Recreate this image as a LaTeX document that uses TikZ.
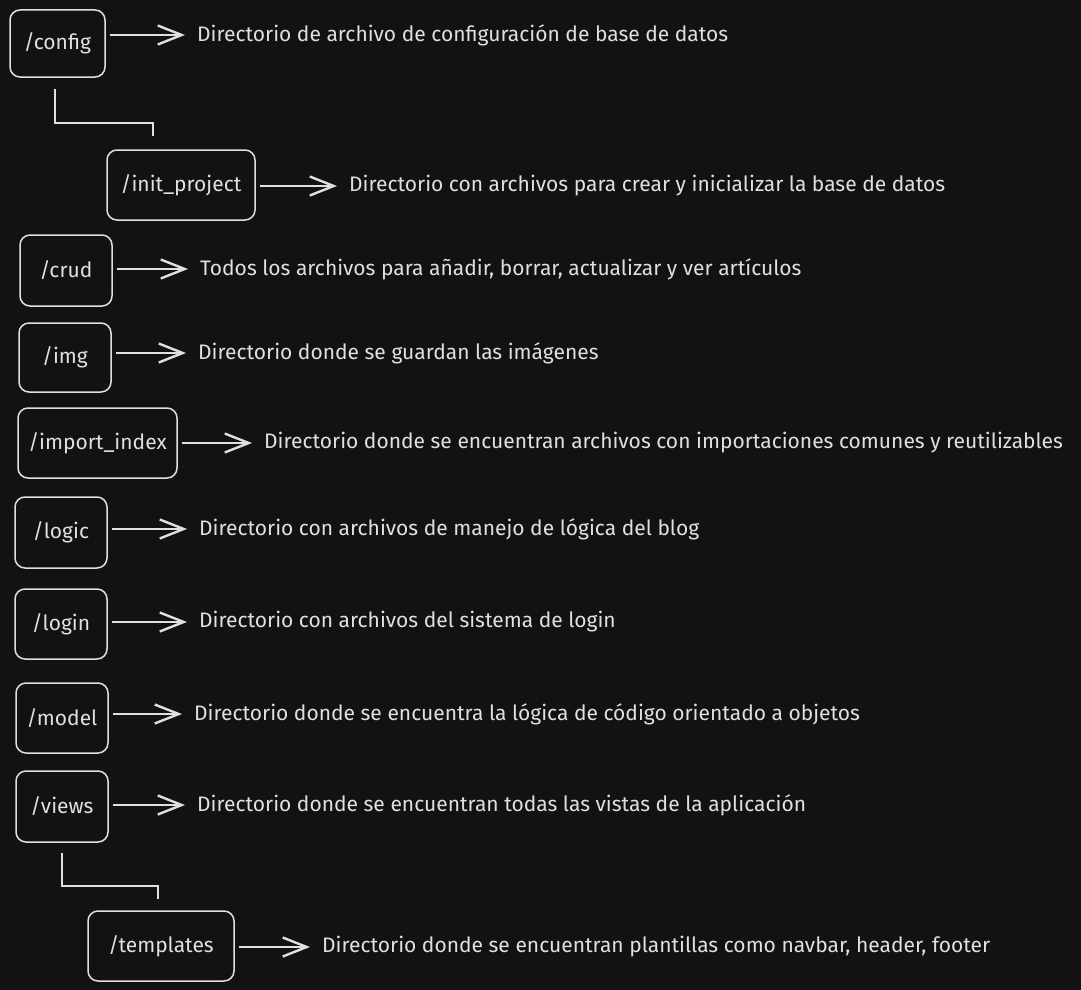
\documentclass[tikz,border=0pt]{standalone}
\usepackage{fontspec}
\setmainfont{Fira Sans}
\definecolor{sketchbg}{RGB}{18, 18, 18}
\definecolor{sketchink}{RGB}{224, 224, 224}
\usetikzlibrary{arrows.meta, positioning}
\tikzset{
    dirbox/.style={rectangle, rounded corners=10pt, draw=sketchink, line width=1.5pt,
                   text=sketchink, align=center, inner sep=0pt, font=\fontsize{21}{25}\selectfont},
    desctext/.style={anchor=west, text=sketchink, inner sep=0pt, font=\fontsize{21}{25}\selectfont},
    arrow/.style={-{Straight Barb[length=24pt, width=19pt]}, line width=2.4pt, sketchink,
                  shorten <=4pt, shorten >=12pt},
    elbow/.style={line width=2pt, sketchink},
}
\begin{document}
\begin{tikzpicture}[x=1pt, y=-1pt]
            \useasboundingbox (0, 0) rectangle (1081, 990);
            \fill[sketchbg] (0, 0) rectangle (1081, 990);

            \node[dirbox, minimum width=95pt, minimum height=67pt] (config) at (57.5, 43.5) {/config};
            \node[desctext] (configdesc) at (197, 35) {Directorio de archivo de configuración de base de datos};
            \node[dirbox, minimum width=148pt, minimum height=70pt] (initproject) at (181, 185) {/init\_project};
            \node[desctext] (initdesc) at (349, 186) {Directorio con archivos para crear y inicializar la base de datos};
            \node[dirbox, minimum width=92pt, minimum height=71pt] (crud) at (66, 270.5) {/crud};
            \node[desctext] (cruddesc) at (200, 269) {Todos los archivos para añadir, borrar, actualizar y ver artículos};
            \node[dirbox, minimum width=92pt, minimum height=69pt] (img) at (65, 357.5) {/img};
            \node[desctext] (imgdesc) at (198, 353) {Directorio donde se guardan las imágenes};
            \node[dirbox, minimum width=159pt, minimum height=70pt] (import) at (97.5, 443) {/import\_index};
            \node[desctext] (importdesc) at (264, 443) {Directorio donde se encuentran archivos con importaciones comunes y reutilizables};
            \node[dirbox, minimum width=92pt, minimum height=71pt] (logic) at (61, 532.5) {/logic};
            \node[desctext] (logicdesc) at (199, 529) {Directorio con archivos de manejo de lógica del blog};
            \node[dirbox, minimum width=92pt, minimum height=70pt] (login) at (61, 624) {/login};
            \node[desctext] (logindesc) at (199, 622) {Directorio con archivos del sistema de login};
            \node[dirbox, minimum width=92pt, minimum height=70pt] (model) at (62, 718) {/model};
            \node[desctext] (modeldesc) at (194, 714) {Directorio donde se encuentra la lógica de código orientado a objetos};
            \node[dirbox, minimum width=92pt, minimum height=71pt] (views) at (62, 806.5) {/views};
            \node[desctext] (viewsdesc) at (197, 805) {Directorio donde se encuentran todas las vistas de la aplicación};
            \node[dirbox, minimum width=146pt, minimum height=70pt] (templates) at (161, 946) {/templates};
            \node[desctext] (templatesdesc) at (322, 947) {Directorio donde se encuentran plantillas como navbar, header, footer};

            \draw[arrow] (config.east |- configdesc.west) -- (configdesc.west);
            \draw[arrow] (initproject.east |- initdesc.west) -- (initdesc.west);
            \draw[arrow] (crud.east |- cruddesc.west) -- (cruddesc.west);
            \draw[arrow] (img.east |- imgdesc.west) -- (imgdesc.west);
            \draw[arrow] (import.east |- importdesc.west) -- (importdesc.west);
            \draw[arrow] (logic.east |- logicdesc.west) -- (logicdesc.west);
            \draw[arrow] (login.east |- logindesc.west) -- (logindesc.west);
            \draw[arrow] (model.east |- modeldesc.west) -- (modeldesc.west);
            \draw[arrow] (views.east |- viewsdesc.west) -- (viewsdesc.west);
            \draw[arrow] (templates.east |- templatesdesc.west) -- (templatesdesc.west);

            % subfolders
            \draw[elbow] ([shift={(-2.5, 11)}]config.south) -- ++(0, 34) -| ([shift={(-28, -13)}]initproject.north);
            \draw[elbow] ([shift={(0, 10)}]views.south) -- ++(0, 33) -| ([shift={(-3, -11)}]templates.north);
        \end{tikzpicture}
\end{document}
